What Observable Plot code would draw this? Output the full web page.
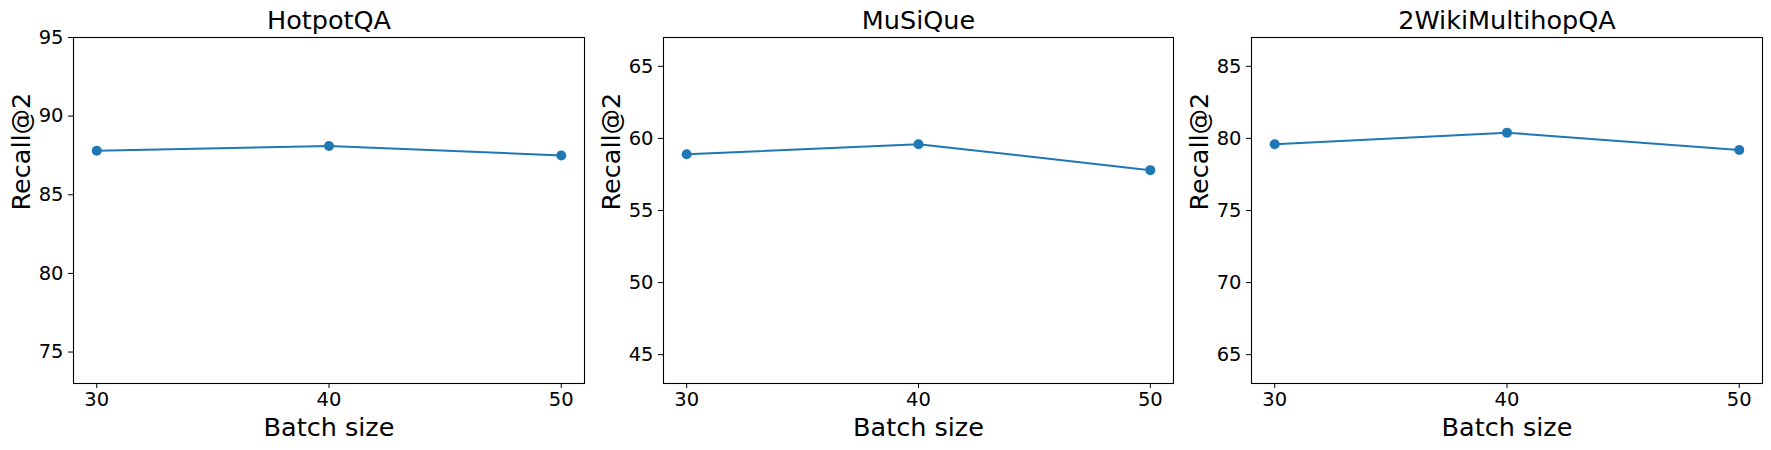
<!DOCTYPE html>
<html>
<head>
<meta charset="utf-8">
<script src="https://cdn.jsdelivr.net/npm/d3@7"></script>
<script src="https://cdn.jsdelivr.net/npm/@observablehq/plot@0.6"></script>
<style>
  html, body { margin: 0; padding: 0; background: white; }
  #wrap { position: relative; width: 1771px; height: 450px; overflow: hidden; background: white; }
  #wrap svg { position: absolute; top: 0; background: transparent; }
</style>
</head>
<body>
<div id="wrap"></div>
<script>
// Data
const batchSizes = [30, 40, 50];
const datasets = ["HotpotQA", "MuSiQue", "2WikiMultihopQA"];
const hotpotRecall = [87.8, 88.1, 87.5];
const musiqueRecall = [58.9, 59.6, 57.8];
const wikiRecall = [79.6, 80.4, 79.2];
const xTicks = [30, 40, 50];
const yDomains = [[73, 95], [43, 67], [63, 87]];
const yTicks = [[75, 80, 85, 90, 95], [45, 50, 55, 60, 65], [65, 70, 75, 80, 85]];
const seriesValues = [hotpotRecall, musiqueRecall, wikiRecall];

const lefts = [0, 590, 1178];
const plotWidths = [511, 510, 511];
const color = "#1f77b4";
const font = "'DejaVu Sans', sans-serif";

const wrap = document.getElementById("wrap");
datasets.forEach((name, i) => {
  const rows = batchSizes.map((b, j) => ({batch: b, recall: seriesValues[i][j]}));
  const chart = Plot.plot({
    width: 73 + plotWidths[i] + 5,
    height: 450,
    marginLeft: 73,
    marginRight: 5,
    marginTop: 37,
    marginBottom: 67,
    style: {fontFamily: font, fontSize: "19.5px", color: "black", background: "transparent"},
    x: {domain: [29, 51], ticks: xTicks, tickSize: 5, tickPadding: 4, label: null, tickFormat: d => String(d)},
    y: {domain: yDomains[i], ticks: yTicks[i], tickSize: 5, tickPadding: 5, label: null, tickFormat: d => String(d)},
    marks: [
      Plot.frame({stroke: "black", strokeWidth: 1.1}),
      Plot.line(rows, {x: "batch", y: "recall", stroke: color, strokeWidth: 2}),
      Plot.dot(rows, {x: "batch", y: "recall", fill: color, r: 5}),
      Plot.text([name], {text: d => d, frameAnchor: "top", dy: -17, fontSize: 25.5, fill: "black", lineAnchor: "middle"}),
      Plot.text(["Batch size"], {text: d => d, frameAnchor: "bottom", dy: 44, fontSize: 25.5, fill: "black", lineAnchor: "middle"}),
      Plot.text(["Recall@2"], {text: d => d, frameAnchor: "left", dx: -52, rotate: -90, fontSize: 25.5, fill: "black", lineAnchor: "middle"})
    ]
  });
  chart.style.left = lefts[i] + "px";
  wrap.appendChild(chart);
});
</script>
</body>
</html>
